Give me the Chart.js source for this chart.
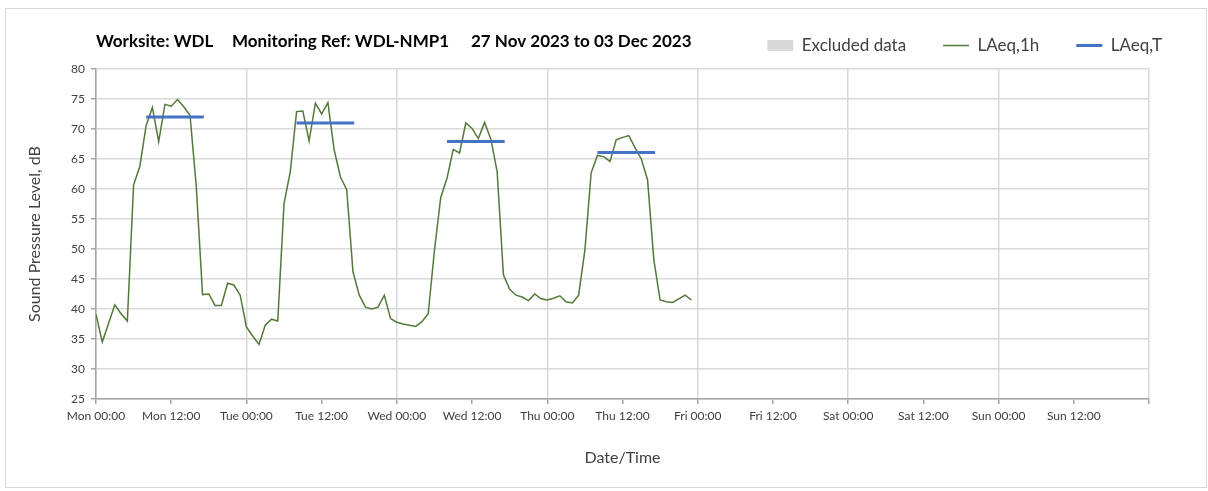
<!DOCTYPE html>
<html>
<head>
<meta charset="utf-8">
<script src="https://cdn.jsdelivr.net/npm/chart.js@4"></script>
<style>
  html, body { margin: 0; padding: 0; background: #fff; }
  #wrap { position: relative; width: 1208px; height: 491px; }
</style>
</head>
<body>
<div id="wrap"><canvas id="chartContainer"></canvas></div>
<script>
"use strict";

// 1: data
const titleParts = ['Worksite: WDL', 'Monitoring Ref: WDL-NMP1', '27 Nov 2023 to 03 Dec 2023'];
const dayNames = ['Mon', 'Tue', 'Wed', 'Thu', 'Fri', 'Sat', 'Sun'];

// hourly LAeq,1h values, 00:00 to 23:00 of each day
const monLevels = [39.1, 34.5, 37.6, 40.7, 39.2, 38.0, 60.7, 63.8, 70.6, 73.6, 67.9, 74.1,
                   73.8, 74.9, 73.7, 72.3, 60.4, 42.4, 42.5, 40.6, 40.6, 44.3, 44.0, 42.3];
const tueLevels = [37.0, 35.5, 34.1, 37.3, 38.3, 38.0, 57.6, 62.9, 72.9, 73.0, 68.0, 74.3,
                   72.5, 74.4, 66.5, 62.0, 59.9, 46.2, 42.3, 40.3, 40.0, 40.3, 42.3, 38.4];
const wedLevels = [37.8, 37.5, 37.3, 37.1, 37.9, 39.2, 49.8, 58.6, 61.8, 66.6, 66.0, 71.0,
                   70.1, 68.4, 71.1, 68.3, 62.9, 45.7, 43.3, 42.3, 42.0, 41.4, 42.5, 41.7];
const thuLevels = [41.5, 41.8, 42.2, 41.2, 41.0, 42.3, 49.8, 62.7, 65.6, 65.4, 64.6, 68.2,
                   68.6, 68.9, 66.9, 65.0, 61.5, 48.2, 41.5, 41.2, 41.1, 41.7, 42.3, 41.5];

// LAeq,T per daytime period (hours from Mon 00:00)
const laeqT = [72.0, 71.0, 67.9, 66.1];
const periodStart = [8, 32, 56, 80];
const periodEnd = [17.2, 41.2, 65.2, 89.2];

// no excluded data this week
const excludedData = [];

// 2: prepare data for chart
function prepareData() {
  let hourly = monLevels.concat(tueLevels, wedLevels, thuLevels)
    .map((v, i) => ({ x: i, y: v }));
  let periods = [];
  laeqT.forEach((v, i) => {
    periods.push({ x: periodStart[i], y: v }, { x: periodEnd[i], y: v }, { x: periodEnd[i], y: null });
  });
  return { hourly: hourly, periods: periods };
}

// 3: create and append the chart
function appendChart() {
  let data = prepareData();
  Chart.defaults.font.family = 'Lato, "Open Sans", sans-serif';

  // legend sits in a fixed 69px band above the plot
  const legendBand = {
    id: 'legendBand',
    beforeInit(chart) {
      const fit = chart.legend.fit;
      chart.legend.fit = function () {
        fit.call(this);
        this.height = 69;
      };
    }
  };

  const frameAndTitle = {
    id: 'frameAndTitle',
    beforeDraw(chart) {
      const ctx = chart.ctx;
      ctx.save();
      ctx.strokeStyle = '#d9d9d9';
      ctx.lineWidth = 1;
      ctx.strokeRect(5.5, 8.5, 1201, 479);
      ctx.restore();
    },
    afterDraw(chart) {
      const ctx = chart.ctx;
      const xs = [96, 232, 471];
      ctx.save();
      ctx.font = 'bold 17px Lato';
      ctx.fillStyle = '#000';
      ctx.textBaseline = 'middle';
      titleParts.forEach((t, i) => ctx.fillText(t, xs[i], 42));
      ctx.restore();
    }
  };

  let chartContainer = document.getElementById('chartContainer');
  let chart = new Chart(chartContainer, {
    data: {
      datasets: [{
        type: 'bar',
        label: 'Excluded data',
        data: excludedData,
        backgroundColor: '#d9d9d9',
        order: 3
      }, {
        type: 'line',
        label: 'LAeq,1h',
        data: data.hourly,
        borderColor: '#52793a',
        borderWidth: 1.5,
        pointRadius: 0,
        tension: 0,
        order: 2
      }, {
        type: 'line',
        label: 'LAeq,T',
        data: data.periods,
        borderColor: '#4472c4',
        borderWidth: 3,
        pointRadius: 0,
        spanGaps: false,
        order: 1
      }]
    },
    options: {
      responsive: true,
      maintainAspectRatio: false,
      devicePixelRatio: 1,
      animation: false,
      layout: { padding: { left: 0, right: 9, top: 0, bottom: 0 } },
      plugins: {
        title: { display: false },
        tooltip: { enabled: false },
        legend: {
          position: 'top',
          align: 'end',
          onClick: null,
          labels: {
            usePointStyle: true,
            pointStyleWidth: 26,
            boxHeight: 11,
            padding: 37,
            color: '#404040',
            font: { size: 17 },
            generateLabels(chart) {
              return chart.data.datasets.map((ds, i) => ({
                text: ds.label,
                datasetIndex: i,
                hidden: false,
                pointStyle: ds.type === 'bar' ? 'rect' : 'line',
                fillStyle: ds.type === 'bar' ? ds.backgroundColor : ds.borderColor,
                strokeStyle: ds.type === 'bar' ? ds.backgroundColor : ds.borderColor,
                lineWidth: ds.type === 'bar' ? 0 : ds.borderWidth,
                fontColor: '#404040'
              }));
            }
          }
        }
      },
      scales: {
        x: {
          type: 'linear',
          min: 0,
          max: 168,
          offset: false,
          ticks: {
            stepSize: 12,
            autoSkip: false,
            maxRotation: 0,
            color: '#404040',
            font: { size: 12 },
            padding: 5,
            callback: v => v >= 168 ? '' : dayNames[Math.floor(v / 24)] + (v % 24 === 0 ? ' 00:00' : ' 12:00')
          },
          grid: {
            offset: false,
            color: c => (c.tick && c.tick.value % 24 === 0) ? '#d9d9d9' : 'rgba(0,0,0,0)',
            lineWidth: 1.5,
            tickLength: 5,
            tickColor: '#a6a6a6'
          },
          border: { color: '#a6a6a6', width: 1.5 },
          title: {
            display: true,
            text: 'Date/Time',
            color: '#404040',
            font: { size: 16 },
            padding: { top: 0, bottom: 24 }
          },
          afterFit: s => { s.height = 92; }
        },
        y: {
          min: 25,
          max: 80,
          ticks: { stepSize: 5, color: '#404040', font: { size: 12 }, padding: 6 },
          grid: { color: '#d9d9d9', lineWidth: 1.5, tickLength: 5, tickColor: '#a6a6a6' },
          border: { color: '#a6a6a6', width: 1.5 },
          title: {
            display: true,
            text: 'Sound Pressure Level, dB',
            color: '#404040',
            font: { size: 16 },
            padding: { top: 25, bottom: 0 }
          },
          afterFit: s => { s.width = 96; }
        },
        yRight: {
          position: 'right',
          display: true,
          ticks: { display: false },
          grid: { display: false, drawTicks: false },
          border: { display: false },
          afterFit: s => { s.width = 50; }
        }
      }
    },
    plugins: [legendBand, frameAndTitle]
  });
}

appendChart();
</script>
</body>
</html>
